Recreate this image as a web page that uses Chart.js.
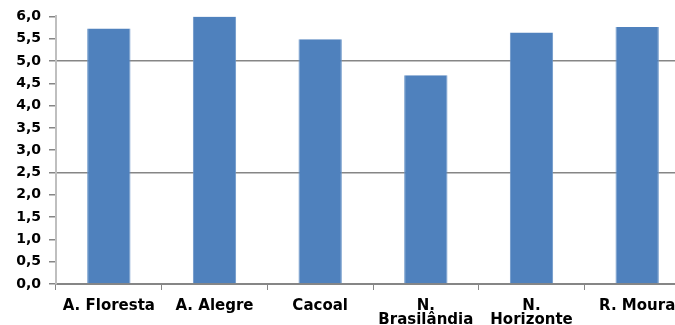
<!DOCTYPE html>
<html>
<head>
<meta charset="utf-8">
<script src="https://cdn.jsdelivr.net/npm/chart.js@4/dist/chart.umd.min.js"></script>
<style>
  html, body { margin: 0; padding: 0; background: #fff; overflow: hidden; }
  #wrap { width: 692px; height: 325px; }
</style>
</head>
<body>
<div id="wrap"><canvas id="myChart" width="692" height="325"></canvas></div>
<script>
// municipalities and measured values
const labels = ['A. Floresta', 'A. Alegre', 'Cacoal', ['N.', 'Brasilândia'], ['N.', 'Horizonte'], 'R. Moura'];
const values = [5.73, 6.0, 5.49, 4.68, 5.64, 5.76];

const yMin = 0;
const yMax = 6;
const yStep = 0.5;

const gridGrey = '#868686';
const axisGrey = '#bfbfbf';

const data = {
  labels: labels,
  datasets: [{
    data: values,
    backgroundColor: '#4f81bd',
    borderColor: '#6a95c8',
    borderWidth: { left: 1, right: 1, top: 0, bottom: 0 },
    barPercentage: 0.41,
    categoryPercentage: 1.0
  }]
};

const config = {
  type: 'bar',
  data: data,
  options: {
    responsive: false,
    animation: false,
    layout: { padding: { top: 10, right: 2, left: 0, bottom: 0 } },
    plugins: { legend: { display: false }, tooltip: { enabled: false } },
    scales: {
      x: {
        grid: {
          offset: true,
          drawOnChartArea: false,
          color: gridGrey,
          tickLength: 6
        },
        border: { color: gridGrey, width: 2 },
        ticks: {
          color: '#000',
          font: { family: 'DejaVu Sans', size: 15, weight: 'bold', lineHeight: 0.95 },
          padding: 9,
          maxRotation: 0,
          autoSkip: false
        },
        afterFit: function (scale) { scale.height = 41; }
      },
      y: {
        min: yMin,
        max: yMax,
        ticks: {
          stepSize: yStep,
          color: '#000',
          font: { family: 'DejaVu Sans', size: 14, weight: 'bold' },
          padding: 8,
          callback: function (v) { return v.toFixed(1).replace('.', ','); }
        },
        grid: {
          color: function (ctx) {
            const v = ctx.tick ? ctx.tick.value : 0;
            return (v > 0 && Math.abs(v % 2.5) < 1e-9) ? gridGrey : 'rgba(0,0,0,0)';
          },
          tickColor: gridGrey,
          tickLength: 7,
          lineWidth: 1.5
        },
        border: { color: axisGrey, width: 2 },
        afterFit: function (scale) { scale.width = 56; }
      }
    }
  }
};

const myChart = new Chart(document.getElementById('myChart'), config);
</script>
</body>
</html>
